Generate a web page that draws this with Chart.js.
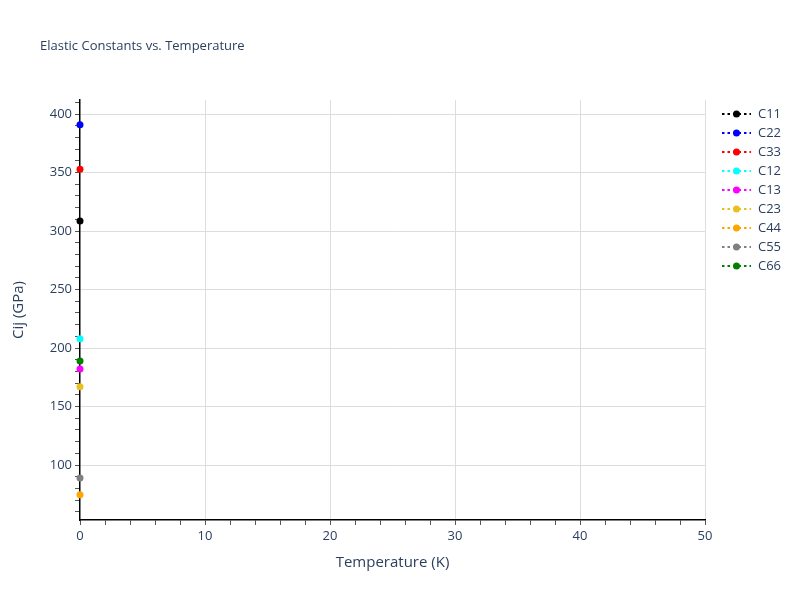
<!DOCTYPE html>
<html>
<head>
<meta charset="utf-8">
<script src="https://cdn.jsdelivr.net/npm/chart.js@4"></script>
<style>
  html, body { margin: 0; padding: 0; background: #fff; }
  #wrap { width: 800px; height: 600px; }
</style>
</head>
<body>
<div id="wrap"><canvas id="chart" width="800" height="600"></canvas></div>
<script>
// data (all at T = 0 K)
const series = ['C11', 'C22', 'C33', 'C12', 'C13', 'C23', 'C44', 'C55', 'C66'];
const temps = [0];
const values = [308.5, 390.8, 352.8, 208, 182, 167, 74.5, 89, 189];
const colors = ['#000000', '#0000ff', '#ff0000', '#00ffff', '#ff00ff', '#e8c020', '#ffa500', '#808080', '#008000'];

const FONT = '"Open Sans", verdana, arial, sans-serif';
const TEXT = '#2a3f5f';

const datasets = series.map((name, i) => ({
    label: name,
    data: temps.map(t => ({ x: t, y: values[i] })),
    showLine: true,
    borderColor: colors[i],
    backgroundColor: colors[i],
    borderDash: [2, 2],
    borderWidth: 2,
    pointRadius: 3.5,
    pointHoverRadius: 3.5,
    pointBorderWidth: 0,
    clip: false
}));

// title + legend drawn on the canvas
const decorations = {
    id: 'decorations',
    afterDraw(chart) {
        const ctx = chart.ctx;
        ctx.save();
        ctx.fillStyle = TEXT;
        ctx.font = '13px ' + FONT;
        ctx.textBaseline = 'middle';
        ctx.textAlign = 'left';
        ctx.fillText('Elastic Constants vs. Temperature', 40, 46);

        series.forEach((name, i) => {
            const y = 114 + i * 19;
            ctx.strokeStyle = colors[i];
            ctx.lineWidth = 2;
            ctx.setLineDash([2.5, 3]);
            ctx.beginPath();
            ctx.moveTo(722, y);
            ctx.lineTo(751, y);
            ctx.stroke();
            ctx.setLineDash([]);
            ctx.fillStyle = colors[i];
            ctx.beginPath();
            ctx.arc(736.5, y, 3.5, 0, Math.PI * 2);
            ctx.fill();
            ctx.fillStyle = TEXT;
            ctx.font = '13px ' + FONT;
            ctx.fillText(name, 758, y + 0.5);
        });
        ctx.restore();
    }
};

new Chart(document.getElementById('chart'), {
    type: 'scatter',
    data: { datasets: datasets },
    options: {
        responsive: false,
        animation: false,
        events: [],
        layout: { padding: { top: 100, right: 95, left: 6, bottom: 28 } },
        plugins: {
            legend: { display: false },
            tooltip: { enabled: false }
        },
        scales: {
            x: {
                type: 'linear',
                min: 0,
                max: 50,
                afterBuildTicks(axis) {
                    const t = [];
                    for (let v = 0; v <= 50; v += 2) t.push({ value: v });
                    axis.ticks = t;
                },
                afterFit(axis) { axis.height = 52; },
                ticks: {
                    autoSkip: false,
                    maxRotation: 0,
                    color: TEXT,
                    font: { family: FONT, size: 13 },
                    padding: 3,
                    callback: v => (v % 10 === 0 ? String(v) : '')
                },
                grid: {
                    color: c => (c.tick && c.tick.value % 10 === 0 && c.tick.value !== 0 ? '#dddddd' : 'rgba(0,0,0,0)'),
                    lineWidth: 1,
                    drawTicks: true,
                    tickLength: 5,
                    tickColor: '#555555'
                },
                border: { display: true, color: '#000000', width: 1.5 },
                title: {
                    display: true,
                    text: 'Temperature (K)',
                    color: TEXT,
                    font: { family: FONT, size: 15 },
                    padding: { top: 8, bottom: 0 }
                }
            },
            y: {
                type: 'linear',
                min: 53,
                max: 412,
                afterBuildTicks(axis) {
                    const t = [];
                    for (let v = 60; v <= 410; v += 10) t.push({ value: v });
                    axis.ticks = t;
                },
                afterFit(axis) { axis.width = 74; },
                ticks: {
                    autoSkip: false,
                    color: TEXT,
                    font: { family: FONT, size: 13 },
                    padding: 3,
                    callback: v => (v % 50 === 0 ? String(v) : '')
                },
                grid: {
                    color: c => (c.tick && c.tick.value % 50 === 0 ? '#dddddd' : 'rgba(0,0,0,0)'),
                    lineWidth: 1,
                    drawTicks: true,
                    tickLength: 5,
                    tickColor: '#555555'
                },
                border: { display: true, color: '#000000', width: 1.5 },
                title: {
                    display: true,
                    text: 'Cij (GPa)',
                    color: TEXT,
                    font: { family: FONT, size: 15 },
                    padding: { top: 4, bottom: 12 }
                }
            }
        }
    },
    plugins: [decorations]
});
</script>
</body>
</html>
